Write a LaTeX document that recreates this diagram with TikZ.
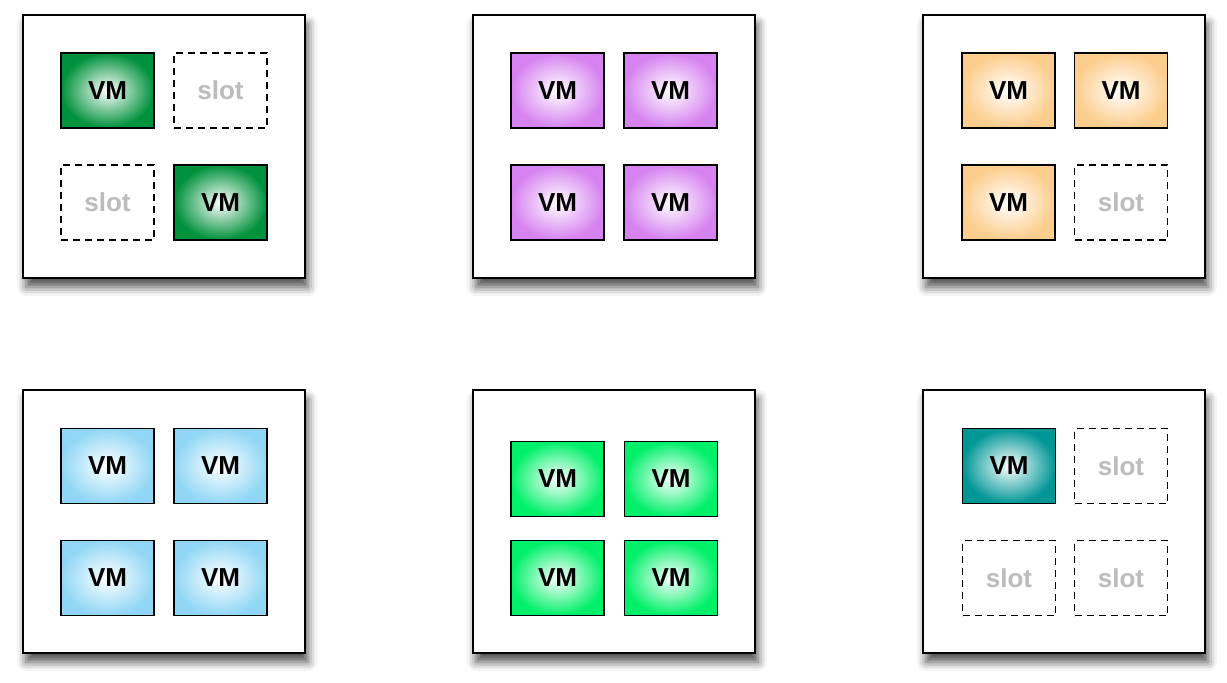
\documentclass[tikz,border=0pt]{standalone}
\usepackage{fontspec}
\setmainfont{Liberation Sans}
\usetikzlibrary{shadows.blur}

\definecolor{vmgreen}{RGB}{0,145,60}
\definecolor{vmpurple}{RGB}{214,130,240}
\definecolor{vmorange}{RGB}{252,205,140}
\definecolor{vmblue}{RGB}{145,215,245}
\definecolor{vmlime}{RGB}{0,240,105}
\definecolor{vmteal}{RGB}{0,150,150}
\definecolor{slotgray}{RGB}{188,188,188}

\newcommand{\vmfont}{\fontsize{26}{26}\selectfont\bfseries}

\tikzset{
	host/.style={draw, line width=1.5pt, fill=white, minimum width=282pt, minimum height=263pt,
		blur shadow={shadow xshift=3pt, shadow yshift=-9pt, shadow blur radius=9pt, shadow opacity=70}},
	vm/.style={draw, line width=1.4pt, minimum width=93pt, minimum height=75pt, inner sep=0pt,
		shading=radial, inner color=white, outer color=#1, font=\vmfont},
	slotbox/.style={draw, line width=1.5pt, dash pattern=on 7pt off 5pt, minimum width=93pt,
		minimum height=75pt, inner sep=0pt, text=slotgray, font=\vmfont}
}

\begin{document}
\begin{tikzpicture}[x=1pt, y=-1pt]
		\useasboundingbox (0,0) rectangle (1227,683);
		% hosts
		\node[host] (h1) at (164,146.5) {};
		\node[host] (h2) at (614,146.5) {};
		\node[host] (h3) at (1064,146.5) {};
		\node[host] (h4) at (164,521.5) {};
		\node[host] (h5) at (614,521.5) {};
		\node[host] (h6) at (1064,521.5) {};
		% host 1
		\node[vm=vmgreen] (h1a) at (107.5,90.5) {VM};
		\node[slotbox] (h1b) at (220.5,90.5) {slot};
		\node[slotbox] (h1c) at (107.5,202.5) {slot};
		\node[vm=vmgreen] (h1d) at (220.5,202.5) {VM};
		% host 2
		\node[vm=vmpurple] (h2a) at (557.5,90.5) {VM};
		\node[vm=vmpurple] (h2b) at (670.5,90.5) {VM};
		\node[vm=vmpurple] (h2c) at (557.5,202.5) {VM};
		\node[vm=vmpurple] (h2d) at (670.5,202.5) {VM};
		% host 3
		\node[vm=vmorange] (h3a) at (1008.5,90.5) {VM};
		\node[vm=vmorange] (h3b) at (1121,90.5) {VM};
		\node[vm=vmorange] (h3c) at (1008.5,202.5) {VM};
		\node[slotbox] (h3d) at (1121,202.5) {slot};
		% host 4
		\node[vm=vmblue] (h4a) at (107.5,466) {VM};
		\node[vm=vmblue] (h4b) at (220.5,466) {VM};
		\node[vm=vmblue] (h4c) at (107.5,578) {VM};
		\node[vm=vmblue] (h4d) at (220.5,578) {VM};
		% host 5
		\node[vm=vmlime] (h5a) at (557.5,479) {VM};
		\node[vm=vmlime] (h5b) at (671,479) {VM};
		\node[vm=vmlime] (h5c) at (557.5,578) {VM};
		\node[vm=vmlime] (h5d) at (671,578) {VM};
		% host 6
		\node[vm=vmteal] (h6a) at (1009,466) {VM};
		\node[slotbox] (h6b) at (1121,466) {slot};
		\node[slotbox] (h6c) at (1009,578) {slot};
		\node[slotbox] (h6d) at (1121,578) {slot};
	\end{tikzpicture}
\end{document}
